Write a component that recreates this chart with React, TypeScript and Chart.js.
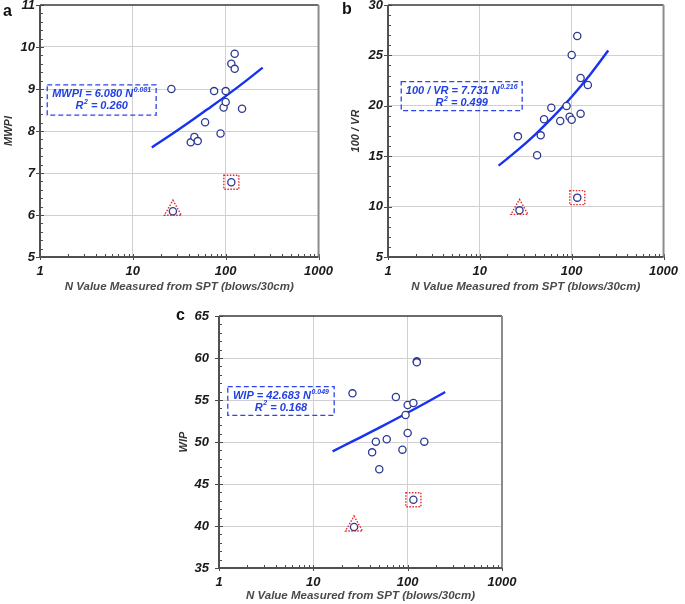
import React, { useEffect, useRef } from "react";
import { Chart, registerables } from "chart.js";

Chart.register(...registerables);

// ---------- data ----------
const sptN = [26, 42, 46, 50, 60, 75, 88, 95, 100, 100, 115, 125, 125, 150];
const mwpiValues = [9.0, 7.73, 7.86, 7.76, 8.21, 8.95, 7.94, 8.56, 8.95, 8.69, 9.6, 9.84, 9.48, 8.53];
const vrValues = [16.97, 15.09, 17.07, 18.66, 19.81, 18.49, 19.98, 18.92, 25.04, 18.62, 26.92, 22.76, 19.22, 22.06];
const wipValues = [55.79, 48.77, 50.04, 46.75, 50.32, 55.36, 49.09, 53.21, 54.4, 51.07, 54.64, 59.6, 59.48, 50.04];

// outliers: [triangle-marked, square-marked]
const outlierN = [27, 115];
const mwpiOutliers = [6.09, 6.78];
const vrOutliers = [9.63, 10.89];
const wipOutliers = [39.88, 43.13];

// fitted power-law curves
const fitN = [16, 25, 40, 63, 100, 160, 250];
const mwpiFit = [7.61, 7.89, 8.2, 8.51, 8.83, 9.17, 9.51];
const vrFit = [14.07, 15.5, 17.15, 18.92, 20.9, 23.14, 25.48];
const wipFit = [48.89, 49.98, 51.14, 52.29, 53.49, 54.73, 55.95];

const xTicks = [1, 10, 100, 1000];
const xTitle = "N Value Measured from SPT (blows/30cm)";

// ---------- style ----------
const FONT = "'Liberation Sans', Arial, Helvetica, sans-serif";
const POINT_COLOR = "#2e3a93";
const FIT_COLOR = "#1732f0";
const EQ_COLOR = "#2340e0";
const RED = "#e3262b";
const GRID = "#d0d0d0";

type Seg = { t: string; sup?: boolean };

type Panel = {
  key: string;
  letter: string;
  letterPos: { left: number; top: number };
  canvas: { left: number; top: number; width: number; height: number };
  pad: { top: number; right: number };
  yWidth: number;
  xHeight: number;
  yTickPad: number;
  xTickPad: number;
  yTitle: string;
  yTitlePad: number;
  xTitlePad: number;
  yMin: number;
  yMax: number;
  yStep: number;
  yMinor: number;
  values: number[];
  outliers: number[];
  fit: number[];
  eq1: Seg[];
  eq2: Seg[];
  box: [number, number, number, number];
};

const panels: Panel[] = [
  {
    key: "a",
    letter: "a",
    letterPos: { left: 3, top: 3 },
    canvas: { left: 0, top: -10, width: 340, height: 310 },
    pad: { top: 15, right: 18 },
    yWidth: 40,
    xHeight: 43,
    yTickPad: 5,
    xTickPad: 7,
    yTitle: "MWPI",
    yTitlePad: 2,
    xTitlePad: 6,
    yMin: 5,
    yMax: 11,
    yStep: 1,
    yMinor: 0.2,
    values: mwpiValues,
    outliers: mwpiOutliers,
    fit: mwpiFit,
    eq1: [{ t: "MWPI = 6.080 N" }, { t: "0.081", sup: true }],
    eq2: [{ t: "R" }, { t: "2", sup: true }, { t: " = 0.260" }],
    box: [0.026, 0.317, 0.417, 0.437],
  },
  {
    key: "b",
    letter: "b",
    letterPos: { left: 342, top: 1 },
    canvas: { left: 345, top: -10, width: 340, height: 310 },
    pad: { top: 15, right: 14 },
    yWidth: 43,
    xHeight: 43,
    yTickPad: 5,
    xTickPad: 7,
    yTitle: "100 / VR",
    yTitlePad: 4,
    xTitlePad: 6,
    yMin: 5,
    yMax: 30,
    yStep: 5,
    yMinor: 1,
    values: vrValues,
    outliers: vrOutliers,
    fit: vrFit,
    eq1: [{ t: "100 / VR = 7.731 N" }, { t: "0.216", sup: true }],
    eq2: [{ t: "R" }, { t: "2", sup: true }, { t: " = 0.499" }],
    box: [0.048, 0.304, 0.487, 0.419],
  },
  {
    key: "c",
    letter: "c",
    letterPos: { left: 176, top: 307 },
    canvas: { left: 165, top: 290, width: 360, height: 314 },
    pad: { top: 26, right: 23 },
    yWidth: 54,
    xHeight: 36,
    yTickPad: 10,
    xTickPad: 7,
    yTitle: "WIP",
    yTitlePad: 12,
    xTitlePad: 1.5,
    yMin: 35,
    yMax: 65,
    yStep: 5,
    yMinor: 1,
    values: wipValues,
    outliers: wipOutliers,
    fit: wipFit,
    eq1: [{ t: "WIP = 42.683 N" }, { t: "0.049", sup: true }],
    eq2: [{ t: "R" }, { t: "2", sup: true }, { t: " = 0.168" }],
    box: [0.031, 0.28, 0.407, 0.394],
  },
];

function drawSegs(ctx: CanvasRenderingContext2D, segs: Seg[], cx: number, cy: number) {
  const mainFont = `italic bold 11px ${FONT}`;
  const supFont = `italic bold 7px ${FONT}`;
  const widths = segs.map((s) => {
    ctx.font = s.sup ? supFont : mainFont;
    return ctx.measureText(s.t).width + (s.sup ? 0.5 : 0);
  });
  const total = widths.reduce((p, c) => p + c, 0);
  let x = cx - total / 2;
  ctx.textAlign = "left";
  ctx.textBaseline = "middle";
  segs.forEach((s, i) => {
    ctx.font = s.sup ? supFont : mainFont;
    ctx.fillText(s.t, x + (s.sup ? 0.5 : 0), s.sup ? cy - 4 : cy);
    x += widths[i];
  });
}

function makePlugin(p: Panel) {
  return {
    id: "decor_" + p.key,
    afterDatasetsDraw(chart: any) {
      const ctx: CanvasRenderingContext2D = chart.ctx;
      const a = chart.chartArea;
      const xs = chart.scales.x;
      const ys = chart.scales.y;
      ctx.save();

      // tick marks
      ctx.strokeStyle = "#4a4a4a";
      ctx.lineWidth = 1;
      const nMinor = Math.round((p.yMax - p.yMin) / p.yMinor);
      for (let i = 0; i <= nMinor; i++) {
        const v = p.yMin + i * p.yMinor;
        const r = v / p.yStep;
        const major = Math.abs(r - Math.round(r)) < 1e-6;
        const py = Math.round(ys.getPixelForValue(v)) + 0.5;
        ctx.beginPath();
        ctx.moveTo(a.left - (major ? 4 : 0), py);
        ctx.lineTo(a.left + (major ? 4 : 3), py);
        ctx.stroke();
      }
      for (const d of [1, 10, 100]) {
        for (let k = 2; k <= 9; k++) {
          const px = Math.round(xs.getPixelForValue(d * k)) + 0.5;
          ctx.beginPath();
          ctx.moveTo(px, a.bottom);
          ctx.lineTo(px, a.bottom - 3);
          ctx.stroke();
        }
      }
      for (const v of xTicks) {
        const px = Math.round(xs.getPixelForValue(v)) + 0.5;
        ctx.beginPath();
        ctx.moveTo(px, a.bottom - 3);
        ctx.lineTo(px, a.bottom + 3);
        ctx.stroke();
      }

      // frame
      ctx.lineWidth = 1.5;
      ctx.strokeStyle = "#3a3a3a";
      ctx.beginPath();
      ctx.moveTo(a.left, a.top);
      ctx.lineTo(a.right, a.top);
      ctx.stroke();
      ctx.lineWidth = 2;
      ctx.strokeStyle = "#8c8c8c";
      ctx.beginPath();
      ctx.moveTo(a.right, a.top);
      ctx.lineTo(a.right, a.bottom);
      ctx.stroke();
      ctx.strokeStyle = "#505050";
      ctx.beginPath();
      ctx.moveTo(a.left, a.top);
      ctx.lineTo(a.left, a.bottom);
      ctx.lineTo(a.right, a.bottom);
      ctx.stroke();

      // outlier markers
      const meta = chart.getDatasetMeta(1);
      const tri = meta.data[0];
      const sq = meta.data[1];
      ctx.setLineDash([1.5, 1.5]);
      ctx.strokeStyle = RED;
      ctx.lineWidth = 1.4;
      if (tri) {
        ctx.beginPath();
        ctx.moveTo(tri.x, tri.y - 11);
        ctx.lineTo(tri.x + 8.5, tri.y + 4);
        ctx.lineTo(tri.x - 8.5, tri.y + 4);
        ctx.closePath();
        ctx.stroke();
      }
      if (sq) ctx.strokeRect(sq.x - 7.5, sq.y - 7, 15, 14);

      // equation box
      const w = a.right - a.left;
      const h = a.bottom - a.top;
      const bl = a.left + p.box[0] * w;
      const bt = a.top + p.box[1] * h;
      const br = a.left + p.box[2] * w;
      const bb = a.top + p.box[3] * h;
      ctx.setLineDash([5, 3]);
      ctx.strokeStyle = "#2b45e8";
      ctx.lineWidth = 1.3;
      ctx.strokeRect(bl, bt, br - bl, bb - bt);
      ctx.setLineDash([]);
      ctx.fillStyle = EQ_COLOR;
      const cx = (bl + br) / 2;
      drawSegs(ctx, p.eq1, cx, bt + 9.5);
      drawSegs(ctx, p.eq2, cx, bt + 21);

      ctx.restore();
    },
  };
}

function PanelChart({ p }: { p: Panel }) {
  const ref = useRef<HTMLCanvasElement | null>(null);
  useEffect(() => {
    if (!ref.current) return;
    const tickFont = { family: FONT, size: 13, style: "italic" as const, weight: "bold" as const };
    const chart = new Chart(ref.current, {
      type: "scatter",
      data: {
        datasets: [
          {
            label: "data",
            data: sptN.map((n, i) => ({ x: n, y: p.values[i] })),
            pointRadius: 3.6,
            pointBorderWidth: 1.3,
            borderColor: POINT_COLOR,
            backgroundColor: "#ffffff",
            order: 0,
          },
          {
            label: "outliers",
            data: outlierN.map((n, i) => ({ x: n, y: p.outliers[i] })),
            pointRadius: 3.6,
            pointBorderWidth: 1.3,
            borderColor: POINT_COLOR,
            backgroundColor: "#ffffff",
            order: 0,
          },
          {
            label: "fit",
            data: fitN.map((n, i) => ({ x: n, y: p.fit[i] })),
            showLine: true,
            pointRadius: 0,
            borderColor: FIT_COLOR,
            borderWidth: 2.4,
            tension: 0.4,
            fill: false,
            order: 1,
          } as any,
        ],
      },
      options: {
        animation: false,
        responsive: false,
        devicePixelRatio: 1,
        layout: { padding: { top: p.pad.top, right: p.pad.right, left: 0, bottom: 0 } },
        plugins: { legend: { display: false }, tooltip: { enabled: false } },
        scales: {
          x: {
            type: "logarithmic",
            min: 1,
            max: 1000,
            afterBuildTicks: (s: any) => {
              s.ticks = xTicks.map((v) => ({ value: v }));
            },
            afterFit: (s: any) => {
              s.height = p.xHeight;
            },
            ticks: {
              autoSkip: false,
              maxRotation: 0,
              padding: p.xTickPad,
              font: tickFont,
              color: "#1a1a1a",
              callback: (v: any) => String(v),
            },
            grid: {
              drawTicks: false,
              lineWidth: 1,
              color: (c: any) =>
                c.tick && (c.tick.value === 1 || c.tick.value === 1000) ? "rgba(0,0,0,0)" : GRID,
            },
            border: { display: false },
            title: {
              display: true,
              text: xTitle,
              color: "#4a4a4a",
              font: { family: FONT, size: 11.5, style: "italic", weight: "bold" },
              padding: { top: 0, bottom: p.xTitlePad },
            },
          },
          y: {
            type: "linear",
            min: p.yMin,
            max: p.yMax,
            afterFit: (s: any) => {
              s.width = p.yWidth;
            },
            ticks: {
              stepSize: p.yStep,
              padding: p.yTickPad,
              font: tickFont,
              color: "#1a1a1a",
            },
            grid: {
              drawTicks: false,
              lineWidth: 1,
              color: (c: any) =>
                c.tick && (c.tick.value === p.yMin || c.tick.value === p.yMax) ? "rgba(0,0,0,0)" : GRID,
            },
            border: { display: false },
            title: {
              display: true,
              text: p.yTitle,
              color: "#333333",
              font: { family: FONT, size: 11, style: "italic", weight: "bold" },
              padding: { top: p.yTitlePad, bottom: 0 },
            },
          },
        },
      } as any,
      plugins: [makePlugin(p)],
    });
    return () => chart.destroy();
  }, [p]);

  return (
    <canvas
      ref={ref}
      width={p.canvas.width}
      height={p.canvas.height}
      style={{
        position: "absolute",
        left: p.canvas.left,
        top: p.canvas.top,
        width: p.canvas.width,
        height: p.canvas.height,
      }}
    />
  );
}

export default function App() {
  return (
    <div
      style={{
        position: "absolute",
        left: 0,
        top: 0,
        width: 685,
        height: 604,
        overflow: "hidden",
        background: "#ffffff",
      }}
    >
      {panels.map((p) => (
        <PanelChart key={p.key} p={p} />
      ))}
      {panels.map((p) => (
        <div
          key={"l" + p.key}
          style={{
            position: "absolute",
            left: p.letterPos.left,
            top: p.letterPos.top,
            font: `bold 16px/16px ${FONT}`,
            color: "#111",
          }}
        >
          {p.letter}
        </div>
      ))}
    </div>
  );
}
